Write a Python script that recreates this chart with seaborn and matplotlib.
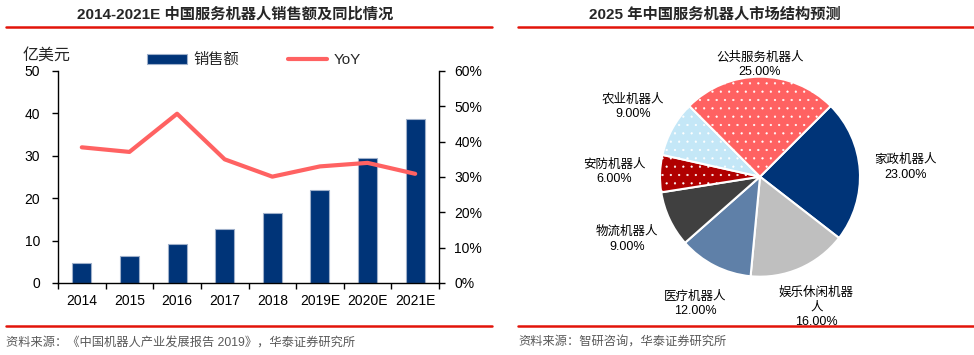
import matplotlib
matplotlib.use("Agg")
import matplotlib.pyplot as plt
import seaborn as sns
import numpy as np
from matplotlib.lines import Line2D
from matplotlib.ticker import FuncFormatter, FixedLocator

# ---------------- data ----------------
years = ["2014", "2015", "2016", "2017", "2018", "2019E", "2020E", "2021E"]
sales = [4.6, 6.3, 9.3, 12.7, 16.4, 21.9, 29.4, 38.6]          # 亿美元
yoy = [38.4, 37.1, 47.9, 35.0, 30.1, 33.0, 34.0, 30.9]          # %

segments = ["家政机器人", "娱乐休闲机器\n人", "医疗机器人", "物流机器人",
            "安防机器人", "农业机器人", "公共服务机器人"]
shares = [23, 16, 12, 9, 6, 9, 25]                               # %

left_title = "2014-2021E 中国服务机器人销售额及同比情况"
right_title = "2025 年中国服务机器人市场结构预测"
left_source = "资料来源：《中国机器人产业发展报告 2019》，华泰证券研究所"
right_source = "资料来源：智研咨询，华泰证券研究所"
unit_label = "亿美元"

# ---------------- style ----------------
sns.set_style("ticks")
plt.rcParams["font.family"] = ["Liberation Sans", "Noto Sans CJK SC", "DejaVu Sans"]
plt.rcParams["hatch.color"] = "white"
plt.rcParams["hatch.linewidth"] = 0.35
plt.rcParams["axes.unicode_minus"] = False

NAVY = "#003478"
PINK = "#FF6262"
RED_RULE = "#E2140A"
pie_colors = ["#003478", "#BFBFBF", "#5F80A8", "#404040", "#B00000", "#C4E7F7", "#FF6262"]
pie_hatch = [None, None, None, None, "..", "..", ".."]
label_dist = [1.46, 1.42, 1.43, 1.47, 1.46, 1.45, 1.12]

W, H = 974, 355
fig = plt.figure(figsize=(W / 100, H / 100), dpi=100)

def fx(px):
    return px / W

def fy(py):
    return 1 - py / H

# ---------------- left: bar + line ----------------
ax = fig.add_axes([fx(58), fy(283), fx(439) - fx(58), fy(71) - fy(283)])
sns.barplot(x=years, y=sales, ax=ax, color=NAVY, saturation=1, width=0.4,
            edgecolor="#9FB0CA", linewidth=0.8, label="销售额")
h1, l1 = ax.get_legend_handles_labels()
if ax.get_legend() is not None:
    ax.get_legend().remove()
ax.set_xlim(-0.5, len(years) - 0.5)
ax.set_ylim(0, 50)
ax.set_yticks(np.arange(0, 51, 10))
ax.set_xlabel("")
ax.set_ylabel("")
ax.xaxis.set_minor_locator(FixedLocator(np.arange(-0.5, len(years), 1.0)))
ax.tick_params(axis="x", which="major", length=0, pad=8, labelsize=10, colors="black")
ax.tick_params(axis="x", which="minor", length=4, width=1, color="black", direction="out")
ax.tick_params(axis="y", length=4, width=1, direction="out", pad=9, labelsize=10, colors="black")
for s in ["left", "bottom"]:
    ax.spines[s].set_color("black")
    ax.spines[s].set_linewidth(1)
ax.spines["top"].set_visible(False)
ax.spines["right"].set_visible(False)

ax2 = ax.twinx()
sns.lineplot(x=np.arange(len(years)), y=np.array(yoy) / 100, ax=ax2, color=PINK,
             linewidth=3, label="YoY", legend=False)
h2, l2 = ax2.get_legend_handles_labels()
if ax2.get_legend() is not None:
    ax2.get_legend().remove()
ax2.set_ylim(0, 0.6)
ax2.set_yticks(np.arange(0, 0.61, 0.1))
ax2.yaxis.set_major_formatter(FuncFormatter(lambda v, p: f"{v * 100:.0f}%"))
ax2.set_ylabel("")
ax2.tick_params(axis="y", length=4, width=1, direction="out", pad=7, labelsize=10, colors="black")
ax2.spines["right"].set_visible(True)
ax2.spines["right"].set_color("black")
ax2.spines["right"].set_linewidth(1)
ax2.spines["top"].set_visible(False)
ax2.spines["left"].set_visible(False)
ax2.spines["bottom"].set_visible(False)
ax2.set_xlim(-0.5, len(years) - 0.5)

fig.legend(h1 + h2, l1 + l2, loc="center", bbox_to_anchor=(fx(254), fy(60)),
           ncol=2, frameon=False, fontsize=11, handlelength=2.6,
           handleheight=0.6, columnspacing=3.2, handletextpad=0.4)

fig.text(fx(23), fy(55), unit_label, fontsize=11.5, ha="left", va="center")

# ---------------- right: pie ----------------
axp = fig.add_axes([fx(660), fy(276.7), fx(860) - fx(660), fy(76.7) - fy(276.7)])
wedges, _ = axp.pie(shares, colors=pie_colors, startangle=45, counterclock=False,
                    radius=1, wedgeprops=dict(edgecolor="white", linewidth=1.5))
for w, hp in zip(wedges, pie_hatch):
    if hp:
        w.set_hatch(hp)
total = sum(shares)
for w, name, val, d in zip(wedges, segments, shares, label_dist):
    ang = np.deg2rad((w.theta1 + w.theta2) / 2)
    axp.text(d * np.cos(ang), d * np.sin(ang), f"{name}\n{val / total * 100:.2f}%",
             ha="center", va="center", fontsize=9, linespacing=1.3, color="black")
axp.set_xlim(-1, 1)
axp.set_ylim(-1, 1)
axp.set_aspect("equal")
axp.axis("off")

# ---------------- titles, rules, sources ----------------
fig.text(fx(235), fy(14), left_title, fontsize=11, fontweight="bold", ha="center", va="center")
fig.text(fx(715), fy(14), right_title, fontsize=11, fontweight="bold", ha="center", va="center")

for (x0, x1, y) in [(6, 492, 27), (518, 974, 27), (6, 492, 325.5), (518, 974, 325.5)]:
    fig.add_artist(Line2D([fx(x0), fx(x1)], [fy(y), fy(y)], transform=fig.transFigure,
                          color=RED_RULE, linewidth=1.8))

fig.text(fx(6), fy(343), left_source, fontsize=8.8, color="#595959", ha="left", va="center")
fig.text(fx(518), fy(343), right_source, fontsize=8.8, color="#595959", ha="left", va="center")

fig.savefig("out.png", dpi=100)
